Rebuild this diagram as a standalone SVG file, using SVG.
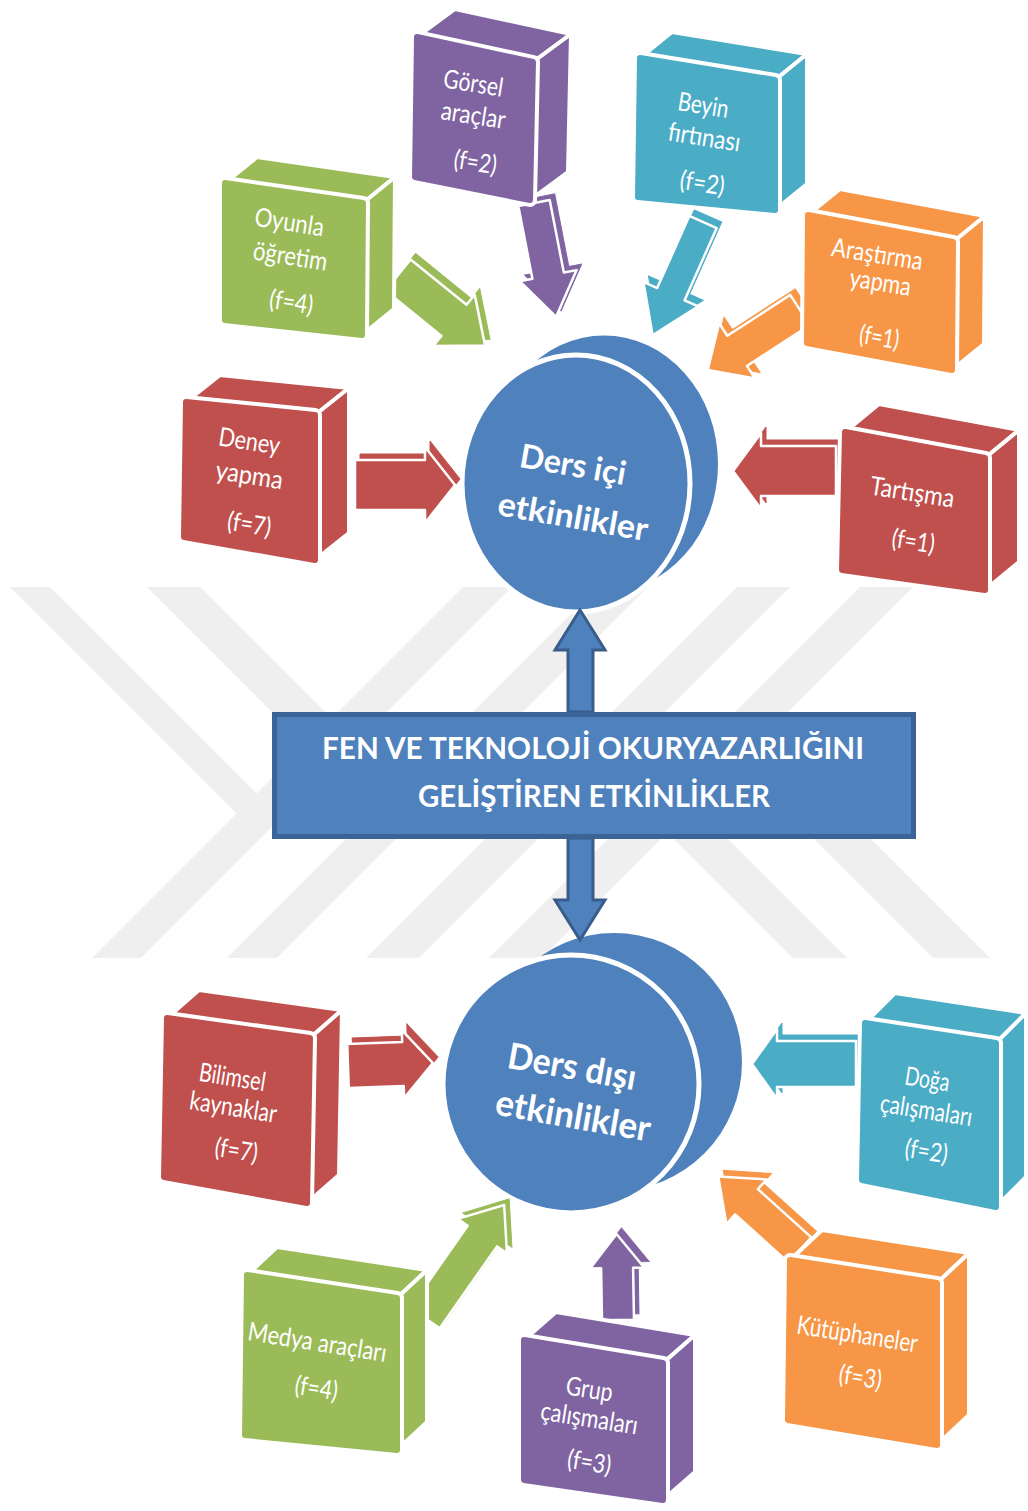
<svg xmlns="http://www.w3.org/2000/svg" xmlns:xlink="http://www.w3.org/1999/xlink" width="1028" height="1511" viewBox="0 0 1028 1511">
<style>
.wm{fill:#efefef}
.pu{fill:#8064a2;stroke:#8064a2}
.gr{fill:#9bbb59;stroke:#9bbb59}
.te{fill:#4bacc6;stroke:#4bacc6}
.or{fill:#f79646;stroke:#f79646}
.re{fill:#c0504d;stroke:#c0504d}
.face{stroke:#fff;stroke-width:4;stroke-linejoin:round}
.under{fill:#fff;stroke:#fff;stroke-width:14;stroke-linejoin:round}
.front{stroke-width:6;stroke-linejoin:round}
.arr{stroke:#fff;stroke-width:2.5;stroke-linejoin:round}
.bt{fill:#fff;stroke:none;font-family:Lato,"Open Sans","Liberation Sans",sans-serif;font-size:26px;text-anchor:middle}
.ct{fill:#fff;font-family:Lato,"Open Sans","Liberation Sans",sans-serif;font-weight:bold;text-anchor:middle}
.disc{fill:#4f81bd}
.discf{fill:#4f81bd;stroke:#fff;stroke-width:5}
.dbl{fill:#4f81bd;stroke:#385d8a;stroke-width:3;stroke-linejoin:miter}
</style>
<defs>
<path id="arGorsel" transform="translate(534,203) rotate(79)" d="M0,-16 H74 V-29 L116,0 L74,29 V16 H0 Z"/>
<path id="arOyunla" transform="translate(398,275) rotate(39)" d="M0,-20 H72 V-33 L112,0 L72,33 V20 H0 Z"/>
<path id="arBeyin" transform="translate(703,222) rotate(114)" d="M0,-15 H79 V-30 L124,0 L79,30 V15 H0 Z"/>
<path id="arArastirma" transform="translate(800,310) rotate(147)" d="M0,-18 H75 V-33 L110,0 L75,33 V18 H0 Z"/>
<path id="arDeney" transform="translate(355,485)" d="M0,-25 H70 V-38 L100,0 L70,38 V25 H0 Z"/>
<path id="arTartisma" transform="translate(836,471) rotate(180)" d="M0,-25 H75 V-38 L103,0 L75,38 V25 H0 Z"/>
<path id="arBilimsel" transform="translate(348,1066) rotate(-2)" d="M0,-22 H55 V-34 L85,0 L55,34 V22 H0 Z"/>
<path id="arDoga" transform="translate(856,1064) rotate(180)" d="M0,-23 H79 V-35 L104,0 L79,35 V23 H0 Z"/>
<path id="arMedya" transform="translate(425,1318) rotate(-55)" d="M0,-18 H100 V-30 L138,0 L100,30 V18 H0 Z"/>
<path id="arGrup" transform="translate(618,1320) rotate(-91)" d="M0,-16 H52 V-27 L86,0 L52,27 V16 H0 Z"/>
<path id="arKutup" transform="translate(800,1250) rotate(-138)" d="M0,-17 H72 V-30 L110,0 L72,30 V17 H0 Z"/>
</defs>
<rect width="1028" height="1511" fill="#fff"/>
<g id="watermark">
<polygon class="wm" points="463,587 512,587 141,958 92,958"/>
<polygon class="wm" points="598,587 648,587 277,958 227,958"/>
<polygon class="wm" points="737,587 790,587 419,958 366,958"/>
<polygon class="wm" points="860,587 913,587 542,958 489,958"/>
<polygon class="wm" points="10,587 50,587 268.75,805.75 248.75,825.75"/>
<polygon class="wm" points="147,587 200,587 411.5,798.5 385,825"/>
<polygon class="wm" points="793,958 847,958 619.75,730.75 592.75,757.75"/>
<polygon class="wm" points="933,958 990,958 752.75,720.75 724.25,749.25"/>
</g>
<g id="ders-ici">
<ellipse class="disc" cx="604" cy="464" rx="114" ry="128.5"/>
<ellipse class="discf" cx="576" cy="483.5" rx="114" ry="128.5"/>
<text class="ct" x="571" y="476" font-size="33" textLength="107" lengthAdjust="spacingAndGlyphs" transform="rotate(10 571 476)">Ders içi</text>
<text class="ct" x="571" y="528" font-size="33" textLength="152" lengthAdjust="spacingAndGlyphs" transform="rotate(10 571 528)">etkinlikler</text>
</g>
<g id="ders-disi">
<ellipse class="disc" cx="614" cy="1062" rx="128" ry="129"/>
<ellipse class="discf" cx="571" cy="1084" rx="128" ry="129"/>
<text class="ct" x="570" y="1079" font-size="36" textLength="130" lengthAdjust="spacingAndGlyphs" transform="rotate(10 570 1079)">Ders dışı</text>
<text class="ct" x="571" y="1128" font-size="36" textLength="157" lengthAdjust="spacingAndGlyphs" transform="rotate(10 571 1128)">etkinlikler</text>
</g>
<g id="connectors">
<path class="dbl" d="M568,712 V650 H555 L580,610 L605,650 H593 V712 Z"/>
<path class="dbl" d="M568,838 V900 H555 L580,940 L605,900 H593 V838 Z"/>
<g class="pu"><use xlink:href="#arGorsel" transform="translate(5,-6)"/><use xlink:href="#arGorsel" class="arr"/></g>
<g class="gr"><use xlink:href="#arOyunla" transform="translate(5,-6)"/><use xlink:href="#arOyunla" class="arr"/></g>
<g class="te"><use xlink:href="#arBeyin" transform="translate(5,-6)"/><use xlink:href="#arBeyin" class="arr"/></g>
<g class="or"><use xlink:href="#arArastirma" transform="translate(5,-6)"/><use xlink:href="#arArastirma" class="arr"/></g>
<g class="re"><use xlink:href="#arDeney" transform="translate(5,-6)"/><use xlink:href="#arDeney" class="arr"/></g>
<g class="re"><use xlink:href="#arTartisma" transform="translate(5,-6)"/><use xlink:href="#arTartisma" class="arr"/></g>
<g class="re"><use xlink:href="#arBilimsel" transform="translate(5,-6)"/><use xlink:href="#arBilimsel" class="arr"/></g>
<g class="te"><use xlink:href="#arDoga" transform="translate(5,-6)"/><use xlink:href="#arDoga" class="arr"/></g>
<g class="gr"><use xlink:href="#arMedya" transform="translate(5,-6)"/><use xlink:href="#arMedya" class="arr"/></g>
<g class="pu"><use xlink:href="#arGrup" transform="translate(5,-6)"/><use xlink:href="#arGrup" class="arr"/></g>
<g class="or"><use xlink:href="#arKutup" transform="translate(5,-6)"/><use xlink:href="#arKutup" class="arr"/></g>
</g>
<g id="center">
<rect x="274.5" y="714.5" width="639" height="122" fill="#4f81bd" stroke="#3c6396" stroke-width="5"/>
<text class="ct" x="593" y="759" font-size="30" textLength="542" lengthAdjust="spacingAndGlyphs">FEN VE TEKNOLOJİ OKURYAZARLIĞINI</text>
<text class="ct" x="594" y="807" font-size="30" textLength="352" lengthAdjust="spacingAndGlyphs">GELİŞTİREN ETKİNLİKLER</text>
</g>
<g id="box-gorsel" class="pu">
<polygon class="face" points="417,37 533,62 571,34 455,9"/>
<polygon class="face" points="533,62 530,200 568,172 571,34"/>
<polygon class="under" points="417,37 533,62 530,200 415,177"/>
<polygon class="front" points="417,37 533,62 530,200 415,177"/>
<text class="bt" x="472" y="92" textLength="60" lengthAdjust="spacingAndGlyphs" transform="rotate(9 472 92)">Görsel</text>
<text class="bt" x="472" y="124" textLength="65" lengthAdjust="spacingAndGlyphs" transform="rotate(9 472 124)">araçlar</text>
<text class="bt" x="474" y="171" textLength="43" lengthAdjust="spacingAndGlyphs" transform="rotate(9 474 171)">(f=2)</text>
</g>
<g id="box-oyunla" class="gr">
<polygon class="face" points="225,183 363,203 395,177 257,157"/>
<polygon class="face" points="363,203 362,335 394,309 395,177"/>
<polygon class="under" points="225,183 363,203 362,335 225,320"/>
<polygon class="front" points="225,183 363,203 362,335 225,320"/>
<text class="bt" x="288" y="231" textLength="70" lengthAdjust="spacingAndGlyphs" transform="rotate(9 288 231)">Oyunla</text>
<text class="bt" x="289" y="265" textLength="75" lengthAdjust="spacingAndGlyphs" transform="rotate(9 289 265)">öğretim</text>
<text class="bt" x="290" y="311" textLength="44" lengthAdjust="spacingAndGlyphs" transform="rotate(9 290 311)">(f=4)</text>
</g>
<g id="box-beyin" class="te">
<polygon class="face" points="640,58 775,80 807,54 672,32"/>
<polygon class="face" points="775,80 775,210 807,184 807,54"/>
<polygon class="under" points="640,58 775,80 775,210 638,197"/>
<polygon class="front" points="640,58 775,80 775,210 638,197"/>
<text class="bt" x="702" y="114" textLength="51" lengthAdjust="spacingAndGlyphs" transform="rotate(9 702 114)">Beyin</text>
<text class="bt" x="703" y="146" textLength="73" lengthAdjust="spacingAndGlyphs" transform="rotate(9 703 146)">fırtınası</text>
<text class="bt" x="701" y="192" textLength="45" lengthAdjust="spacingAndGlyphs" transform="rotate(9 701 192)">(f=2)</text>
</g>
<g id="box-arastirma" class="or">
<polygon class="face" points="808,215 953,242 985,216 840,189"/>
<polygon class="face" points="953,242 952,370 984,344 985,216"/>
<polygon class="under" points="808,215 953,242 952,370 807,343"/>
<polygon class="front" points="808,215 953,242 952,370 807,343"/>
<text class="bt" x="876" y="263" textLength="92" lengthAdjust="spacingAndGlyphs" transform="rotate(9 876 263)">Araştırma</text>
<text class="bt" x="879" y="291" textLength="62" lengthAdjust="spacingAndGlyphs" transform="rotate(9 879 291)">yapma</text>
<text class="bt" x="878" y="346" textLength="40" lengthAdjust="spacingAndGlyphs" transform="rotate(9 878 346)">(f=1)</text>
</g>
<g id="box-deney" class="re">
<polygon class="face" points="186,402 315,415 349,388 220,375"/>
<polygon class="face" points="315,415 315,560 349,533 349,388"/>
<polygon class="under" points="186,402 315,415 315,560 184,537"/>
<polygon class="front" points="186,402 315,415 315,560 184,537"/>
<text class="bt" x="248" y="450" textLength="62" lengthAdjust="spacingAndGlyphs" transform="rotate(9 248 450)">Deney</text>
<text class="bt" x="248" y="484" textLength="68" lengthAdjust="spacingAndGlyphs" transform="rotate(9 248 484)">yapma</text>
<text class="bt" x="248" y="533" textLength="44" lengthAdjust="spacingAndGlyphs" transform="rotate(9 248 533)">(f=7)</text>
</g>
<g id="box-tartisma" class="re">
<polygon class="face" points="845,432 985,458 1019,430 879,404"/>
<polygon class="face" points="985,458 985,590 1019,562 1019,430"/>
<polygon class="under" points="845,432 985,458 985,590 842,570"/>
<polygon class="front" points="845,432 985,458 985,590 842,570"/>
<text class="bt" x="911" y="501" textLength="85" lengthAdjust="spacingAndGlyphs" transform="rotate(9 911 501)">Tartışma</text>
<text class="bt" x="912" y="550" textLength="43" lengthAdjust="spacingAndGlyphs" transform="rotate(9 912 550)">(f=1)</text>
</g>
<g id="box-bilimsel" class="re">
<polygon class="face" points="167,1018 310,1038 342,1010 199,990"/>
<polygon class="face" points="310,1038 307,1203 339,1175 342,1010"/>
<polygon class="under" points="167,1018 310,1038 307,1203 164,1177"/>
<polygon class="front" points="167,1018 310,1038 307,1203 164,1177"/>
<text class="bt" x="231" y="1086" textLength="67" lengthAdjust="spacingAndGlyphs" transform="rotate(9 231 1086)">Bilimsel</text>
<text class="bt" x="232" y="1116" textLength="88" lengthAdjust="spacingAndGlyphs" transform="rotate(9 232 1116)">kaynaklar</text>
<text class="bt" x="235" y="1159" textLength="43" lengthAdjust="spacingAndGlyphs" transform="rotate(9 235 1159)">(f=7)</text>
</g>
<g id="box-doga" class="te">
<polygon class="face" points="865,1023 996,1043 1026,1013 895,993"/>
<polygon class="face" points="996,1043 996,1207 1026,1177 1026,1013"/>
<polygon class="under" points="865,1023 996,1043 996,1207 862,1180"/>
<polygon class="front" points="865,1023 996,1043 996,1207 862,1180"/>
<text class="bt" x="926" y="1088" textLength="45" lengthAdjust="spacingAndGlyphs" transform="rotate(9 926 1088)">Doğa</text>
<text class="bt" x="925" y="1119" textLength="93" lengthAdjust="spacingAndGlyphs" transform="rotate(9 925 1119)">çalışmaları</text>
<text class="bt" x="925" y="1160" textLength="43" lengthAdjust="spacingAndGlyphs" transform="rotate(9 925 1160)">(f=2)</text>
</g>
<g id="box-medya" class="gr">
<polygon class="face" points="247,1275 397,1298 427,1270 277,1247"/>
<polygon class="face" points="397,1298 397,1450 427,1422 427,1270"/>
<polygon class="under" points="247,1275 397,1298 397,1450 245,1435"/>
<polygon class="front" points="247,1275 397,1298 397,1450 245,1435"/>
<text class="bt" x="316" y="1351" textLength="140" lengthAdjust="spacingAndGlyphs" transform="rotate(9 316 1351)">Medya araçları</text>
<text class="bt" x="315" y="1397" textLength="43" lengthAdjust="spacingAndGlyphs" transform="rotate(9 315 1397)">(f=4)</text>
</g>
<g id="box-grup" class="pu">
<polygon class="face" points="524,1340 663,1363 695,1335 556,1312"/>
<polygon class="face" points="663,1363 663,1500 695,1472 695,1335"/>
<polygon class="under" points="524,1340 663,1363 663,1500 524,1480"/>
<polygon class="front" points="524,1340 663,1363 663,1500 524,1480"/>
<text class="bt" x="588" y="1398" textLength="47" lengthAdjust="spacingAndGlyphs" transform="rotate(9 588 1398)">Grup</text>
<text class="bt" x="588" y="1427" textLength="98" lengthAdjust="spacingAndGlyphs" transform="rotate(9 588 1427)">çalışmaları</text>
<text class="bt" x="588" y="1471" textLength="44" lengthAdjust="spacingAndGlyphs" transform="rotate(9 588 1471)">(f=3)</text>
</g>
<g id="box-kutuphaneler" class="or">
<polygon class="face" points="790,1260 937,1283 969,1253 822,1230"/>
<polygon class="face" points="937,1283 937,1445 969,1415 969,1253"/>
<polygon class="under" points="790,1260 937,1283 937,1445 788,1420"/>
<polygon class="front" points="790,1260 937,1283 937,1445 788,1420"/>
<text class="bt" x="856" y="1343" textLength="122" lengthAdjust="spacingAndGlyphs" transform="rotate(9 856 1343)">Kütüphaneler</text>
<text class="bt" x="859" y="1386" textLength="43" lengthAdjust="spacingAndGlyphs" transform="rotate(9 859 1386)">(f=3)</text>
</g>
</svg>
